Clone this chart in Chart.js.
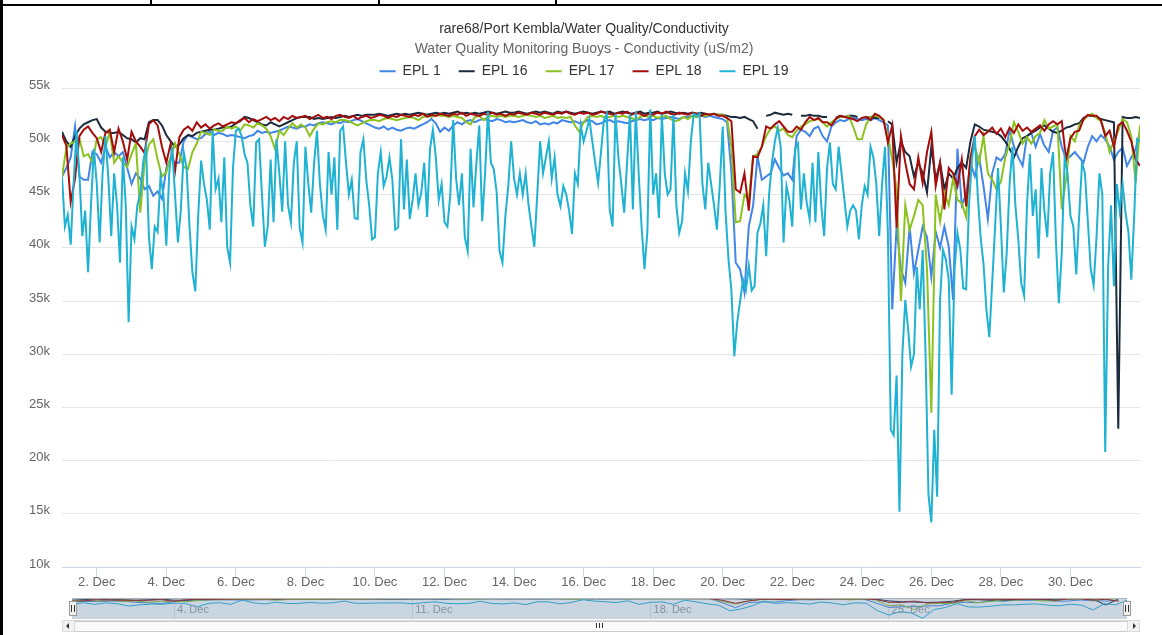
<!DOCTYPE html>
<html lang="en">
<head>
  <meta charset="UTF-8" />
  <title>Conductivity</title>
  <script src="https://cdn.jsdelivr.net/npm/chart.js"></script>
</head>
<body style="margin: 0; padding: 0; background-color: white; font-family: 'Liberation Sans', Arial, sans-serif;">

<div style="position: relative; width: 1162px; height: 635px; overflow: hidden; background-color: white;">

  <!-- table lines around the screenshot -->
  <div style="position: absolute; left: 0; top: 4px; width: 1162px; height: 2px; background-color: black;"></div>
  <div style="position: absolute; left: 150px; top: 0; width: 2px; height: 5px; background-color: black;"></div>
  <div style="position: absolute; left: 378px; top: 0; width: 2px; height: 5px; background-color: black;"></div>
  <div style="position: absolute; left: 555px; top: 0; width: 2px; height: 5px; background-color: black;"></div>
  <div style="position: absolute; left: 0; top: 0; width: 3px; height: 635px; background-color: black;"></div>

  <canvas id="mainChart" width="1162" height="595" style="position: absolute; left: 0; top: 0;"></canvas>
  <canvas id="navChart" width="1162" height="22" style="position: absolute; left: 0; top: 597px;"></canvas>

  <!-- navigator handles -->
  <div style="position: absolute; left: 69px; top: 601px; width: 6px; height: 13px; background-color: #f2f2f2; border: 1px solid #999;">
    <div style="position: absolute; left: 1px; top: 3px; width: 1px; height: 7px; background-color: #333;"></div>
    <div style="position: absolute; left: 4px; top: 3px; width: 1px; height: 7px; background-color: #333;"></div>
  </div>
  <div style="position: absolute; left: 1123px; top: 601px; width: 6px; height: 13px; background-color: #f2f2f2; border: 1px solid #999;">
    <div style="position: absolute; left: 1px; top: 3px; width: 1px; height: 7px; background-color: #333;"></div>
    <div style="position: absolute; left: 4px; top: 3px; width: 1px; height: 7px; background-color: #333;"></div>
  </div>

  <!-- scrollbar -->
  <div style="position: absolute; left: 62px; top: 620px; width: 1076px; height: 10px; background-color: #f2f2f2; border: 1px solid #d9d9d9;"></div>
  <div style="position: absolute; left: 74px; top: 621px; width: 1052px; height: 9px; background-color: #fafafa; border: 1px solid #cccccc;"></div>
  <div style="position: absolute; left: 62px; top: 620px; width: 11px; height: 10px; background-color: #f2f2f2; border: 1px solid #d9d9d9;">
    <div style="position: absolute; left: 3px; top: 2px; width: 0; height: 0; border-top: 3px solid transparent; border-bottom: 3px solid transparent; border-right: 3px solid #333;"></div>
  </div>
  <div style="position: absolute; left: 1127px; top: 620px; width: 11px; height: 10px; background-color: #f2f2f2; border: 1px solid #d9d9d9;">
    <div style="position: absolute; left: 5px; top: 2px; width: 0; height: 0; border-top: 3px solid transparent; border-bottom: 3px solid transparent; border-left: 3px solid #333;"></div>
  </div>
  <div style="position: absolute; left: 596px; top: 623px; width: 1px; height: 5px; background-color: #333;"></div>
  <div style="position: absolute; left: 599px; top: 623px; width: 1px; height: 5px; background-color: #333;"></div>
  <div style="position: absolute; left: 602px; top: 623px; width: 1px; height: 5px; background-color: #333;"></div>

</div>

<script>

  // time axis is in days, 1 = 1 Dec 00:00
  const startDay = 1;
  const stepHours = 3;       // EPL 1, 16, 17, 18
  const stepHoursEpl19 = 2;  // EPL 19 moves a lot more

  const seriesNames = ['EPL 1', 'EPL 16', 'EPL 17', 'EPL 18', 'EPL 19'];
  const seriesColors = ['#4285e8', '#1c2b3d', '#8cc21f', '#a50d0d', '#1fb2d3'];

  const xTickDays = [2, 4, 6, 8, 10, 12, 14, 16, 18, 20, 22, 24, 26, 28, 30];
  const navTickDays = [4, 11, 18, 25];
  const yTicks = [10, 15, 20, 25, 30, 35, 40, 45, 50, 55];

  // values in thousands (uS/m2), one row per day
  const epl1 = [
    46.7, 47.5, 48.5, 51.4, 46.7, 46.4, 46.4, 49.0,
    48.8, 48.0, 49.5, 48.5, 49.0, 48.6, 49.0, 47.5,
    46.0, 47.0, 46.5, 45.5, 45.8, 44.9, 45.3, 44.6,
    47.5, 48.4, 48.0, 48.0, 50.0, 50.6, 50.4, 50.2,
    50.3, 50.7, 50.9, 50.6, 50.8, 50.7, 50.5, 50.6,
    50.5, 50.4, 50.3, 50.5, 50.6, 51.0, 50.8, 50.9,
    50.8, 50.9, 51.0, 51.2, 51.4, 51.3, 51.2, 51.4,
    51.4, 51.6, 51.5, 51.7, 51.8, 51.7, 51.6, 51.8,
    51.7, 51.9, 51.8, 52.0, 52.1, 51.9, 51.7, 51.5,
    51.3, 51.2, 51.4, 51.1, 51.3, 51.1, 51.0, 51.2,
    51.3, 51.2, 51.4, 51.6, 51.8, 52.1, 51.7, 50.9,
    51.3, 51.0, 51.5, 51.8, 51.6, 51.9, 52.0, 51.8,
    52.0, 52.1, 52.0, 51.9, 52.1, 52.0, 51.8, 51.9,
    51.8, 51.9, 52.0, 51.8, 51.7, 51.9, 51.6, 51.7,
    51.6, 51.8, 51.7, 52.0, 51.9, 51.8, 51.9, 51.7,
    51.8, 52.0, 51.9, 51.6, 51.7, 51.9, 52.0, 51.8,
    51.9, 51.8, 51.7, 51.9, 52.0, 52.1, 52.0, 52.1,
    52.0, 52.2, 52.1, 52.2, 52.3, 52.2, 52.1, 52.3,
    52.3, 52.4, 52.3, 52.4, 52.3, 52.4, 52.3, 52.2,
    52.1, 51.8, 47.1, 38.6, 38.0, 35.8, 42.0, 44.0,
    48.6, 46.4, 46.7, 47.0, 48.3, 47.5, 46.8, 47.0,
    46.4, 50.5, 51.1, 50.9, 50.5, 51.2, 51.4, 50.5,
    50.0, 51.4, 51.8, 52.0, 51.9, 52.1, 52.2, 52.1,
    52.0, 52.1, 52.0, 52.2, 52.0, 51.8, 51.5, 34.2,
    42.0, 38.0, 36.7, 42.0, 37.6, 39.8, 42.0, 41.0,
    37.3, 41.5, 40.0, 42.0, 40.1, 35.1, 49.3, 44.0,
    45.0, 48.0, 46.7, 48.5, 45.8, 42.7, 47.0, 48.5,
    48.2, 48.8, 51.1, 49.5, 48.5, 47.7, 50.5, 50.8,
    49.5, 50.7, 49.6, 49.0, 51.0, 51.3, 49.5, 48.3,
    48.6, 49.0, 48.5, 48.0, 49.5, 50.5, 50.0, 50.6,
    50.2, 49.5, 48.3, 49.0, 49.4, 47.7, 48.5, 49.3,
    50.9
  ];

  const epl16 = [
    50.9, 50.0, 49.5, 50.5, 51.2, 51.6, 51.8, 52.0,
    52.1, 51.3, 50.9, 50.8, 50.8, 50.9, 50.6, 50.3,
    50.2, 49.9, 50.3, 50.2, 51.8, 52.0, 52.0, 51.5,
    50.6, 50.0, 49.5, 49.7, 50.3, 50.6, 50.5, 50.8,
    50.9, 51.0, 51.1, 51.1, 51.2, 51.3, 51.3, 51.4,
    51.7, 51.9, 52.3, 52.2, 52.0, 51.8, 51.6, 51.5,
    51.8, 51.6, 51.4, 51.6, 51.8, 52.0, 52.2, 52.3,
    52.3, 52.3, 52.1, 52.2, 52.1, 52.2, 52.3, 52.2,
    52.3, 52.4, 52.3, 52.4, 52.5, 52.4, 52.5, 52.5,
    52.5, 52.6, 52.5, 52.4, 52.5, 52.6, 52.5, 52.6,
    52.5, 52.6, 52.7, 52.6, 52.5, 52.6, 52.7, 52.6,
    52.7, 52.6, 52.7, 52.8, 52.6, 52.7, 52.6, 52.7,
    52.6, 52.7, 52.8, 52.7, 52.6, 52.7, 52.8, 52.7,
    52.7, 52.8, 52.7, 52.6, 52.7, 52.8, 52.7, 52.8,
    52.7, 52.6, 52.8, 52.7, 52.8, 52.7, 52.6, 52.7,
    52.8, 52.7, 52.6, 52.7, 52.8, 52.7, 52.8, 52.6,
    52.7, 52.8, 52.7, 52.6, 52.7, 52.8, 52.6, 52.7,
    52.7, 52.8, 52.6, 52.7, 52.8, 52.7, 52.6, 52.7,
    52.6, 52.7, 52.6, 52.7, 52.6, 52.5, 52.6, 52.5,
    52.5, 52.4, 52.3, 52.3, 52.2, 52.3, 52.1, 51.9,
    51.2, null, 52.4, 52.5, 52.7, 52.6, 52.5, 52.6,
    52.5, null, 52.4, 52.4, 52.5, 52.4, 52.4, 52.3,
    52.3, null, 52.2, 52.4, 52.3, 52.4, 52.4, 52.3,
    null, 52.2, 52.3, 52.2, 52.2, null, 51.9, 51.6,
    48.0, 50.0, 49.0, 48.6, 46.7, 48.0, 47.0, 45.2,
    49.5, 46.4, 48.0, 45.5, 47.0, 46.5, 47.5, 48.0,
    47.5, 50.0, 51.6, 51.4, 51.1, 51.0, 50.9, 50.8,
    50.5, 50.0, 49.3, 48.5, 49.5, 50.3, 50.5, 50.8,
    51.0, 51.3, 51.5, 51.2, 50.9, 50.8, 51.0, 51.3,
    51.4, 51.6, 51.7, 52.2, 52.4, 52.4, 52.3, 52.1,
    52.0, 51.9, 51.8, 23.0, 52.3, 52.2, 52.2, 52.3,
    52.2
  ];

  const epl17 = [
    46.7, 49.4, 49.8, 50.0, 50.3, 48.6, 48.8, 48.0,
    50.2, 50.4, 49.5, 50.9, 48.0, 48.6, 48.0, 47.6,
    48.8, 49.8, 43.3, 48.0, 49.7, 50.2, 48.3, 46.7,
    47.1, 48.5, 49.8, 48.8, 47.6, 47.4, 49.0, 49.8,
    50.9, 50.8, 50.6, 51.1, 51.0, 51.0, 51.4, 51.2,
    51.4, 51.0, 51.6, 51.5, 51.3, 51.7, 51.5, 51.2,
    50.5, 49.3, 51.0, 50.6, 51.2, 51.7, 51.3, 51.6,
    51.3, 50.5, 51.2, 51.7, 51.6, 51.8, 51.9, 51.8,
    52.0, 52.0, 51.9, 51.7, 51.5, 51.7, 51.9, 52.0,
    52.0, 51.9, 52.1, 52.2, 52.1, 52.0, 52.1, 52.2,
    52.3, 52.2, 52.0, 52.3, 52.4, 52.3, 52.5, 52.4,
    52.4, 52.3, 52.4, 52.3, 52.2, 51.8, 51.6, 52.3,
    52.4, 52.0, 52.3, 52.4, 52.3, 52.4, 52.3, 52.4,
    52.4, 52.3, 52.4, 52.5, 52.4, 52.3, 52.4, 52.2,
    52.3, 52.4, 52.2, 52.3, 52.2, 52.3, 51.5, 50.9,
    51.8, 52.3, 52.4, 52.3, 52.4, 52.2, 52.3, 52.4,
    52.3, 52.4, 52.3, 52.2, 52.0, 52.3, 52.4, 52.3,
    52.4, 52.2, 52.3, 52.4, 52.1, 51.9, 52.0, 52.3,
    52.1, 52.4, 52.3, 52.5, 52.4, 52.5, 52.6, 52.5,
    52.5, 52.2, 49.5, 42.4, 42.5, 45.0, 44.5, 48.6,
    48.8, 49.5, 50.5, 51.2, 51.4, 51.0, 51.2, 50.6,
    50.4, 51.0, 51.4, 51.6, 51.9, 52.0, 52.1, 51.8,
    51.4, 51.8, 52.1, 52.3, 52.3, 52.4, 51.4, 50.2,
    50.2, 51.6, 52.3, 52.4, 52.3, 52.0, 50.5, 48.3,
    45.5, 35.0, 44.0, 41.7, 43.0, 44.5, 44.0, 38.0,
    24.5, 45.0, 42.5, 45.2, 44.0, 46.5, 44.5, 44.2,
    42.9, 48.5, 49.5, 48.0, 50.5, 47.0, 46.4, 45.5,
    46.2, 48.5, 49.8, 51.8, 50.9, 49.8, 50.4, 49.8,
    50.5, 50.8, 52.0, 51.2, 51.4, 51.6, 43.6, 46.5,
    50.5, 50.0, 51.5, 52.0, 52.4, 52.6, 52.2, 51.9,
    50.8, 49.0, 50.0, 51.0, 52.1, 51.8, 50.5, 46.1,
    51.5
  ];

  const epl18 = [
    50.6, 49.6, 44.3, 46.5, 50.5, 51.1, 51.4, 50.8,
    50.3, 49.0, 50.8, 51.1, 49.0, 51.2, 50.0, 48.3,
    50.9, 50.0, 49.5, 48.9, 51.6, 52.0, 51.5, 49.5,
    48.0, 49.8, 47.2, 50.4, 51.1, 51.4, 51.0, 51.8,
    51.3, 51.6, 51.2, 51.5, 51.7, 51.4, 51.6, 51.8,
    51.7, 52.0, 52.2, 51.8, 52.1, 51.9, 52.1, 52.3,
    52.0, 52.2, 51.9, 52.3, 52.1, 52.4, 52.2, 52.3,
    52.4, 52.1, 52.3, 52.5, 52.2, 52.3, 52.1, 52.4,
    52.5, 52.3, 52.2, 52.4, 52.1, 52.3, 52.4, 52.2,
    52.3, 52.5, 52.4, 52.2, 52.4, 52.3, 52.5, 52.4,
    52.3, 52.5, 52.4, 52.6, 52.3, 52.5, 52.4, 52.6,
    52.5, 52.4, 52.6, 52.5, 52.7, 52.4, 52.6, 52.5,
    52.4, 52.6, 52.5, 52.7, 52.5, 52.6, 52.4, 52.6,
    52.5, 52.7, 52.6, 52.5, 52.7, 52.6, 52.5, 52.7,
    52.6, 52.5, 52.7, 52.6, 52.8, 52.6, 52.5, 52.7,
    52.6, 52.7, 52.5, 52.6, 52.8, 52.7, 52.6, 52.5,
    52.7, 52.6, 52.8, 52.5, 52.7, 52.6, 52.4, 52.6,
    52.5, 52.7, 52.6, 52.8, 52.6, 52.5, 52.7, 52.6,
    52.5, 52.7, 52.6, 52.4, 52.6, 52.5, 52.6, 52.4,
    52.4, 52.2, 51.9, 45.5, 45.2, 47.0, 43.5, 48.6,
    48.5, 49.5, 51.4, 51.2, 51.6, 51.9, 51.4, 50.9,
    50.9, 51.4, 51.1, 51.8, 52.3, 52.0, 52.2, 51.8,
    51.8, 51.5, 52.1, 52.4, 52.3, 52.2, 52.1, 51.9,
    52.2, 52.3, 52.0, 52.6, 52.4, 52.0, 49.9, 51.5,
    41.9, 50.5, 48.0, 46.0, 45.5, 48.5, 46.1, 49.0,
    50.9, 45.8, 48.0, 43.6, 47.5, 47.0, 45.8, 48.3,
    43.9, 48.5, 50.5, 51.1, 50.6, 50.9, 51.3, 50.7,
    51.2, 50.4, 51.3, 50.8, 51.6, 51.0, 51.3, 50.9,
    51.2, 51.5, 51.0, 51.6, 51.9, 51.6, 51.9, 48.3,
    50.3, 50.9, 51.0, 52.1, 52.5, 52.4, 52.4, 52.0,
    50.5, 51.0, 49.5, 51.5, 51.8, 51.0, 50.0, 48.3,
    47.7
  ];

  // two-hourly, one row per day
  const epl19 = [
    46.7, 42.0, 43.1, 40.3, 46.0, 51.0, 47.0, 41.1, 43.5, 37.7, 44.0, 49.3,
    46.0, 40.5, 47.0, 50.5, 46.5, 41.1, 47.0, 44.0, 38.6, 48.5, 44.0, 33.0,
    42.0, 40.8, 44.0, 45.0, 48.0, 49.5, 41.0, 38.0, 42.0, 41.5, 46.7, 45.0,
    40.2, 47.0, 49.5, 45.0, 40.5, 43.5, 49.0, 47.5, 42.0, 37.7, 35.9, 43.0,
    48.2, 46.0, 44.5, 41.7, 51.0, 45.5, 46.5, 42.4, 48.5, 40.1, 38.6, 47.5,
    51.0, 51.2, 50.5, 48.8, 48.0, 44.0, 42.0, 49.9, 50.2, 45.0, 40.1, 42.0,
    48.3, 42.4, 50.2, 47.0, 43.4, 50.0, 44.0, 42.4, 48.0, 50.0, 41.9, 40.5,
    49.5, 46.0, 43.3, 48.0, 51.0, 46.0, 43.1, 41.7, 49.0, 45.0, 48.5, 41.7,
    51.0, 51.4, 48.0, 45.0, 46.4, 42.8, 42.7, 49.0, 50.2, 46.4, 44.0, 40.8,
    41.0, 47.0, 49.0, 45.8, 46.7, 48.5, 46.4, 41.7, 41.9, 50.2, 43.6, 48.3,
    42.7, 44.5, 47.0, 44.0, 45.2, 48.0, 42.9, 49.3, 51.1, 48.5, 44.5, 46.0,
    42.4, 42.0, 45.0, 52.0, 46.5, 44.0, 47.0, 41.0, 39.7, 49.3, 43.8, 48.0,
    51.5, 42.5, 47.0, 52.8, 48.0, 47.4, 45.2, 39.7, 38.6, 43.0, 45.8, 50.0,
    46.5, 45.0, 47.0, 45.0, 47.0, 44.0, 42.0, 40.1, 45.0, 50.0, 47.0, 48.5,
    50.0, 46.5, 48.5, 45.0, 43.9, 45.8, 45.0, 43.5, 41.3, 47.0, 46.0, 51.5,
    50.0, 51.0, 52.1, 50.0, 48.0, 46.1, 49.0, 52.0, 52.6, 43.6, 42.0, 52.6,
    48.5, 46.0, 43.3, 48.0, 52.6, 43.6, 52.8, 47.0, 42.0, 38.0, 41.5, 53.0,
    45.0, 47.0, 42.8, 52.5, 47.0, 45.0, 45.5, 52.5, 44.0, 41.4, 42.5, 47.0,
    45.3, 50.0, 52.6, 52.4, 52.6, 46.0, 43.6, 48.0, 46.0, 44.0, 41.7, 46.0,
    51.4, 43.3, 38.9, 36.0, 29.8, 33.0, 35.0, 37.0, 36.0, 38.3, 36.0, 36.4,
    41.4, 42.3, 44.0, 39.2, 45.0, 48.0, 50.0, 51.3, 49.5, 40.5, 45.8, 44.5,
    42.0, 49.3, 49.8, 43.6, 47.0, 44.2, 42.7, 48.0, 42.4, 49.0, 44.0, 41.1,
    47.5, 49.9, 46.0, 45.5, 49.5, 47.0, 44.5, 42.0, 43.5, 44.0, 43.5, 40.8,
    44.0, 45.8, 45.0, 49.5, 48.5, 46.0, 41.1, 46.0, 49.5, 41.4, 22.9, 22.4,
    28.0, 15.2, 30.0, 35.1, 32.3, 28.8, 30.0, 38.2, 34.2, 39.8, 30.0, 16.8,
    14.2, 22.9, 16.6, 35.1, 39.8, 38.9, 37.0, 26.2, 38.0, 41.4, 39.8, 36.2,
    36.1, 44.0, 48.3, 50.5, 45.0, 41.0, 38.5, 34.2, 31.6, 36.7, 42.0, 47.5,
    42.0, 35.8, 39.5, 46.0, 49.5, 44.0, 40.8, 36.7, 35.5, 44.0, 48.8, 43.0,
    45.5, 39.0, 47.5, 43.5, 41.0, 47.0, 49.0, 40.5, 34.8, 39.5, 48.5, 47.0,
    43.0, 42.0, 37.5, 43.0, 48.0, 47.0, 42.5, 38.0, 36.5, 41.0, 47.0, 45.0,
    20.8, 38.2, 44.0, 36.4, 46.0, 43.5, 46.0, 43.3, 41.5, 37.0, 43.0, 50.2,
    50.0
  ];

  const seriesValues = [epl1, epl16, epl17, epl18, epl19];
  const seriesSteps = [stepHours, stepHours, stepHours, stepHours, stepHoursEpl19];
  // the navigator shows grouped (averaged) points, about 9 hours each
  const navGroupSizes = [3, 3, 3, 3, 4];

  const fontFamily = "'Liberation Sans', Arial, sans-serif";

  function toPoints(values, step) {
    return values.map((v, i) => ({ x: startDay + i * step / 24, y: v }));
  }

  function groupAverage(values, size) {
    const out = [];
    for (let i = 0; i < values.length; i += size) {
      const chunk = values.slice(i, i + size).filter(v => v !== null);
      out.push(chunk.length ? chunk.reduce((a, b) => a + b, 0) / chunk.length : null);
    }
    return out;
  }

  function makeDatasets(lineWidth, grouped) {
    return seriesNames.map((name, k) => {
      const vals = grouped ? groupAverage(seriesValues[k], navGroupSizes[k]) : seriesValues[k];
      const step = grouped ? seriesSteps[k] * navGroupSizes[k] : seriesSteps[k];
      return {
        label: name,
        data: toPoints(vals, step),
        borderColor: seriesColors[k],
        backgroundColor: seriesColors[k],
        borderWidth: lineWidth,
        pointRadius: 0,
        tension: 0,
        spanGaps: false,
        order: seriesNames.length - k   // last series drawn on top, like the original
      };
    });
  }

  const mainChart = new Chart(document.getElementById('mainChart').getContext('2d'), {
    type: 'line',
    data: { datasets: makeDatasets(2, false) },
    options: {
      responsive: false,
      animation: false,
      events: [],
      layout: { padding: { left: 28, right: 22, top: 0, bottom: 0 } },
      plugins: {
        title: {
          display: true,
          text: 'rare68/Port Kembla/Water Quality/Conductivity',
          color: '#333333',
          font: { family: fontFamily, size: 14, weight: 'normal' },
          padding: { top: 21, bottom: 2 }
        },
        subtitle: {
          display: true,
          text: 'Water Quality Monitoring Buoys - Conductivity (uS/m2)',
          color: '#666666',
          font: { family: fontFamily, size: 14, weight: 'normal' },
          padding: { top: 1, bottom: -11.4 }
        },
        legend: {
          labels: {
            usePointStyle: true,
            pointStyle: 'line',
            pointStyleWidth: 16,
            padding: 18,
            color: '#333333',
            font: { family: fontFamily, size: 14 },
            sort: (a, b) => a.datasetIndex - b.datasetIndex
          }
        },
        tooltip: { enabled: false }
      },
      scales: {
        x: {
          type: 'linear',
          min: 1,
          max: 32,
          afterBuildTicks: (s) => { s.ticks = xTickDays.map(v => ({ value: v })); },
          afterFit: (s) => { s.height = 28; },
          grid: { drawOnChartArea: false, drawTicks: true, tickLength: 10, tickColor: '#ccd6eb' },
          border: { color: '#ccd6eb' },
          ticks: {
            padding: -2,
            color: '#666666',
            maxRotation: 0,
            autoSkip: false,
            font: { family: fontFamily, size: 13 },
            callback: (v) => v + '. Dec'
          }
        },
        y: {
          min: 10,
          max: 55,
          afterBuildTicks: (s) => { s.ticks = yTicks.map(v => ({ value: v })); },
          afterFit: (s) => { s.width = 34; },
          grid: { color: '#e6e6e6', drawTicks: false },
          border: { display: false },
          ticks: {
            padding: 12,
            labelOffset: -3,
            color: '#666666',
            font: { family: fontFamily, size: 13 },
            callback: (v) => v + 'k'
          }
        }
      }
    }
  });

  // navigator strip under the chart: week labels inside, then the selection mask
  const navMask = {
    id: 'navMask',
    afterDatasetsDraw(chart) {
      const a = chart.chartArea;
      const c = chart.ctx;
      const xs = chart.scales.x;
      c.save();
      c.font = '11px ' + fontFamily;
      c.fillStyle = '#999999';
      c.textBaseline = 'middle';
      navTickDays.forEach(d => c.fillText(d + '. Dec', xs.getPixelForValue(d) + 3, a.top + 12));
      c.fillStyle = 'rgba(90,125,165,0.32)';
      c.fillRect(a.left, a.top, a.right - a.left, a.bottom - a.top);
      c.strokeStyle = '#b3b3b3';
      c.lineWidth = 1;
      c.beginPath();
      c.moveTo(a.left, a.top + 0.5);
      c.lineTo(a.right, a.top + 0.5);
      c.stroke();
      c.restore();
    }
  };

  const navChart = new Chart(document.getElementById('navChart').getContext('2d'), {
    type: 'line',
    data: { datasets: makeDatasets(1, true) },
    options: {
      responsive: false,
      animation: false,
      events: [],
      layout: { padding: { left: 72, right: 35, top: 1, bottom: 0 } },
      plugins: { legend: { display: false }, tooltip: { enabled: false } },
      scales: {
        x: {
          type: 'linear',
          min: 1,
          max: 32,
          afterBuildTicks: (s) => { s.ticks = navTickDays.map(v => ({ value: v })); },
          afterFit: (s) => { s.height = 0; },
          grid: { color: '#e6e6e6', drawTicks: false },
          border: { display: false },
          ticks: { display: false }
        },
        y: { display: false, min: 21, max: 53.5 }
      }
    },
    plugins: [navMask]
  });

</script>
</body>
</html>
